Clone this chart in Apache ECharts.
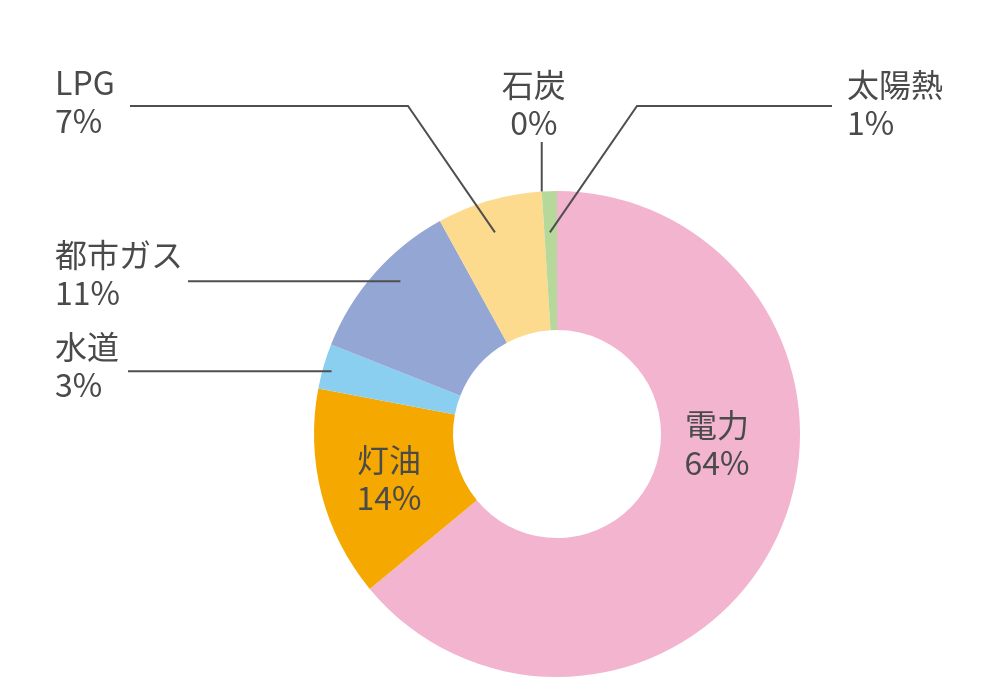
<!DOCTYPE html>
<html>
<head>
<meta charset="utf-8">
<script src="https://cdn.jsdelivr.net/npm/echarts@6/dist/echarts.min.js"></script>
<style>
html,body{margin:0;padding:0;background:#ffffff;}
#main{width:1000px;height:699px;}
</style>
</head>
<body>
<div id="main"></div>
<script>
// ---- data ----
const categories = ['電力', '灯油', '水道', '都市ガス', 'LPG', '石炭', '太陽熱'];
const shares = [64, 14, 3, 11, 7, 0, 1];
const sliceColors = ['#F2B4CE', '#F5A800', '#8BCFF0', '#94A6D4', '#FCDB8E', '#A0A0A0', '#B6D99B'];

// ---- layout (label placement) ----
const CENTER = [557, 434];
const R_IN = 104, R_OUT = 243;
// f: position within slice (0..1 of its angle), k: fraction of outer radius where guide starts
const guides = {
  '電力':   { inside: true, tx: 717, ty: 444, align: 'center', va: 'middle' },
  '灯油':   { inside: true, tx: 389, ty: 479, align: 'center', va: 'middle' },
  '水道':   { f: 0.44, k: 0.963, endX: 128, tx: 55, ty: 366, align: 'left', va: 'middle' },
  '都市ガス': { f: 0.573, k: 0.90, endX: 188, tx: 55, ty: 274, align: 'left', va: 'middle' },
  'LPG':    { f: 0.464, k: 0.868, bend: [408, 106], endX: 130, tx: 55, ty: 102, align: 'left', va: 'middle' },
  '石炭':   { f: 0.5, k: 1.0, endY: 142, dx: -8, align: 'center', va: 'bottom' },
  '太陽熱': { f: 0.44, k: 0.83, bend: [637, 106], endX: 832, tx: 847, ty: 104, align: 'left', va: 'middle' }
};

const total = shares.reduce((a, b) => a + b, 0);
function guideStart(idx, f, k) {
  let cum = 0;
  for (let i = 0; i < idx; i++) cum += shares[i];
  const deg = (cum + shares[idx] * f) / total * 360;
  const rad = deg * Math.PI / 180;
  const rr = R_OUT * k;
  return [CENTER[0] + rr * Math.sin(rad), CENTER[1] - rr * Math.cos(rad)];
}

const sliceData = categories.map((name, i) => ({
  name: name, value: shares[i], itemStyle: { color: sliceColors[i] }
}));

const labelData = categories.map((name, i) => {
  const g = guides[name];
  const item = { name: name, value: shares[i] };
  if (g.inside) {
    item.label = { position: 'inside' };
    item.labelLine = { show: false };
  }
  return item;
});

const chart = echarts.init(document.getElementById('main'), null, { renderer: 'canvas' });
chart.setOption({
  backgroundColor: '#ffffff',
  animation: false,
  series: [{
    type: 'pie',
    z: 2,
    center: CENTER,
    radius: [R_IN, R_OUT],
    startAngle: 90,
    clockwise: true,
    silent: true,
    itemStyle: { borderWidth: 0 },
    label: { show: false },
    labelLine: { show: false },
    data: sliceData
  }, {
    type: 'pie',
    z: 5,
    center: CENTER,
    radius: [R_IN, R_OUT],
    startAngle: 90,
    clockwise: true,
    silent: true,
    avoidLabelOverlap: false,
    itemStyle: { color: 'rgba(0,0,0,0)', borderWidth: 0 },
    label: {
      show: true,
      position: 'outside',
      formatter: '{b}\n{c}%',
      color: '#4A4A4A',
      fontFamily: '"Noto Sans CJK JP", "Noto Sans", sans-serif',
      fontSize: 32,
      lineHeight: 38
    },
    labelLine: {
      show: true,
      length: 20,
      length2: 20,
      smooth: false,
      lineStyle: { color: '#4F4F4F', width: 2 }
    },
    labelLayout: function (p) {
      const name = categories[p.dataIndex];
      const g = guides[name];
      const out = { align: g.align, verticalAlign: g.va };
      if (g.inside) {
        out.x = g.tx; out.y = g.ty;
        return out;
      }
      const s = guideStart(p.dataIndex, g.f, g.k);
      const pts = [s];
      if (g.endY !== undefined) {
        pts.push([s[0], g.endY]);
        out.x = s[0] + g.dx; out.y = g.endY;
      } else {
        if (g.bend) {
          pts.push(g.bend);
          pts.push([g.endX, g.bend[1]]);
        } else {
          pts.push([g.endX, s[1]]);
        }
        out.x = g.tx; out.y = g.ty;
      }
      out.labelLinePoints = pts;
      return out;
    },
    data: labelData
  }]
});
</script>
</body>
</html>
